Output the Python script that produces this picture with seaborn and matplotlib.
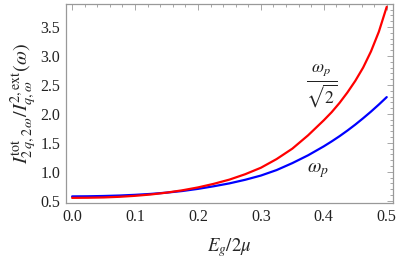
import numpy as np
import pandas as pd
import matplotlib
matplotlib.use('Agg')
import matplotlib.pyplot as plt
import seaborn as sns
from matplotlib.ticker import MultipleLocator

# values
eg = [0.000, 0.025, 0.050, 0.075, 0.100, 0.125, 0.150, 0.175, 0.200, 0.225,
      0.250, 0.275, 0.300, 0.325, 0.350, 0.375, 0.400, 0.4125, 0.425, 0.4375,
      0.450, 0.4625, 0.475, 0.4875, 0.500]
ratio_sqrt2 = [0.550, 0.552, 0.557, 0.568, 0.585, 0.608, 0.640, 0.680, 0.730, 0.792,
               0.865, 0.958, 1.070, 1.220, 1.400, 1.630, 1.890, 2.030, 2.190, 2.370,
               2.570, 2.800, 3.080, 3.420, 3.850]
ratio_wp = [0.575, 0.577, 0.582, 0.590, 0.602, 0.618, 0.640, 0.668, 0.705, 0.750,
            0.800, 0.862, 0.935, 1.030, 1.150, 1.285, 1.440, 1.525, 1.615, 1.712,
            1.815, 1.925, 2.040, 2.162, 2.290]

df = pd.DataFrame({'eg': eg * 2,
                   'val': ratio_wp + ratio_sqrt2,
                   'curve': ['wp'] * len(eg) + ['wp_sqrt2'] * len(eg)})

sns.set_style("white")
plt.rcParams['font.family'] = ['Liberation Serif', 'DejaVu Serif']
plt.rcParams['mathtext.fontset'] = 'stix'

fig = plt.figure(figsize=(3.99, 2.61), dpi=100)
ax = fig.add_axes([0.165, 0.222, 0.82, 0.763])

sns.lineplot(data=df, x='eg', y='val', hue='curve',
             palette={'wp': '#0000ff', 'wp_sqrt2': '#ff0000'},
             linewidth=1.6, legend=False, ax=ax)

ax.set_xlim(-0.01, 0.51)
ax.set_ylim(0.46, 3.90)
ax.xaxis.set_major_locator(MultipleLocator(0.1))
ax.xaxis.set_minor_locator(MultipleLocator(0.02))
ax.yaxis.set_major_locator(MultipleLocator(0.5))
ax.yaxis.set_minor_locator(MultipleLocator(0.1))
ax.xaxis.set_major_formatter(plt.FormatStrFormatter('%.1f'))
ax.yaxis.set_major_formatter(plt.FormatStrFormatter('%.1f'))

frame_c = '#999999'
for s in ax.spines.values():
    s.set_color(frame_c)
    s.set_linewidth(0.9)
ax.tick_params(which='both', direction='in', top=True, right=True,
               color=frame_c, labelsize=11.5, labelcolor='#222222', width=0.6)
ax.tick_params(which='major', length=4, pad=4)
ax.tick_params(which='minor', length=2)

ax.set_xlabel(r'$E_g/2\mu$', fontsize=13.5, labelpad=8)
ax.set_ylabel(r'$I^{\mathrm{tot}}_{2\,q,2\,\omega}/I^{2,\mathrm{ext}}_{q,\omega}(\omega)$',
              fontsize=14.5, labelpad=1)

ax.text(0.397, 2.48, r'$\frac{\omega_p}{\sqrt{2}}$', fontsize=18,
        ha='center', va='center', color='#222222')
ax.text(0.39, 1.03, r'$\omega_p$', fontsize=14, ha='center', va='center',
        color='#222222')

fig.savefig('out.png', dpi=100)
